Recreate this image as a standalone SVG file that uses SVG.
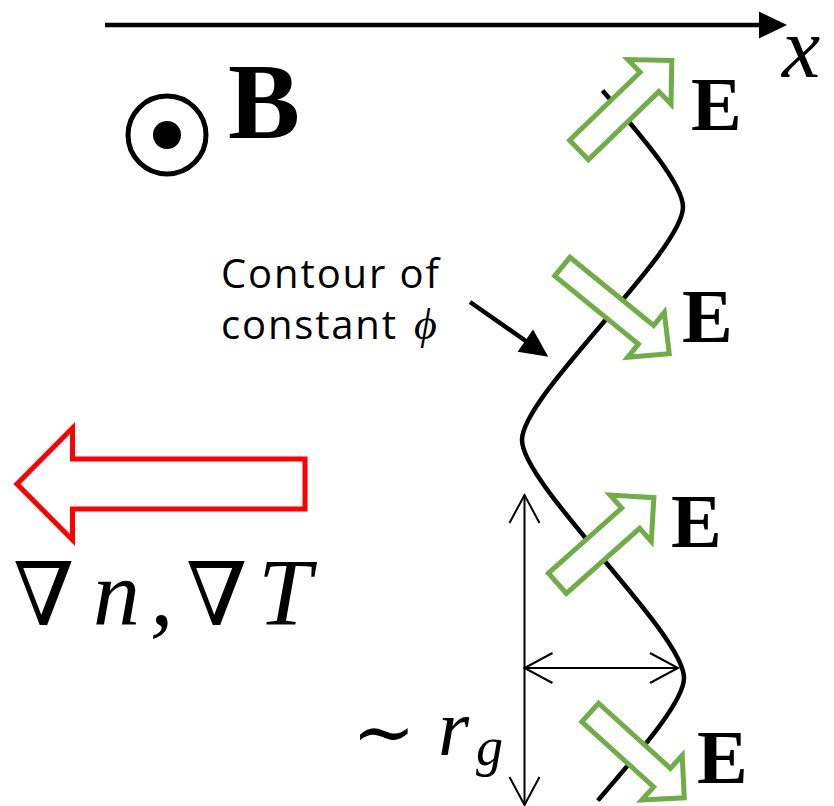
<svg xmlns="http://www.w3.org/2000/svg" width="834" height="806" viewBox="0 0 834 806">
<style>
.bold{font-family:"Liberation Serif","DejaVu Serif",serif;font-weight:bold;fill:#000}
.it{font-family:"Liberation Serif","DejaVu Serif",serif;font-style:italic;fill:#000}
.sym{font-family:"DejaVu Serif","DejaVu Sans",serif;fill:#000}
.lbl{font-family:"Open Sans","Noto Sans","Liberation Sans",sans-serif;fill:#000}
.earrow{fill:#fff;stroke:#70AD47;stroke-width:5;stroke-linejoin:miter}
.thick{stroke:#000;stroke-width:4.5;fill:none}
.thin{stroke:#000;stroke-width:2;fill:none}
</style>
<defs>
<marker id="tri" viewBox="-20 -15 32 30" markerWidth="32" markerHeight="30" refX="0" refY="0" markerUnits="userSpaceOnUse" orient="auto">
<path d="M-18,-13.5 L10,0 L-18,13.5 Z" fill="#000"/>
</marker>
<marker id="chev" viewBox="-32 -18 36 36" markerWidth="36" markerHeight="36" refX="0" refY="0" markerUnits="userSpaceOnUse" orient="auto-start-reverse">
<path d="M-28,-15 L0,0 L-28,15" fill="none" stroke="#000" stroke-width="2"/>
</marker>
</defs>

<g id="x-axis">
<line x1="105" y1="25" x2="777" y2="25" class="thick" marker-end="url(#tri)"/>
<text x="782" y="77" class="it" font-size="86">x</text>
</g>

<g id="b-field">
<circle cx="167" cy="135" r="39" fill="none" stroke="#000" stroke-width="5"/>
<circle cx="167" cy="135" r="14" fill="#000"/>
<text x="228" y="138" class="bold" font-size="108">B</text>
</g>

<g id="gradient">
<polygon points="305,459 72.5,459 72.5,428 17,484 72.5,540 72.5,509 305,509" fill="#fff" stroke="#FF0000" stroke-width="5"/>
<text y="625"><tspan x="13" class="sym" font-size="88">∇</tspan><tspan x="93" class="it" font-size="94">n</tspan><tspan x="150" class="it" font-size="94">,</tspan><tspan x="186" class="sym" font-size="88">∇</tspan><tspan x="258" class="it" font-size="96">T</tspan></text>
</g>

<g id="contour">
<path d="M602.5,90.5 C642.75,137.5 683,184.5 683,207 C683,252 522,395 522,440 C522,485 684,633 684,678 C684,700.5 643.5,747.5 603,794.5 L597.8,800.6" class="thick"/>
</g>

<g id="contour-label">
<text x="221" y="288" class="lbl" font-size="40" textLength="218" lengthAdjust="spacing">Contour of</text>
<text x="221" y="339" class="lbl" font-size="40" textLength="175" lengthAdjust="spacing">constant</text>
<text x="414" y="339" class="it" font-size="44">ϕ</text>
</g>

<g id="e1">
<path class="earrow" transform="translate(579,150) rotate(-44)" d="M0,-13.5 H98 V-31 L129,0 L98,31 V13.5 H0 Z"/>
<text x="691" y="130" class="bold" font-size="76">E</text>
</g>
<g id="e2">
<path class="earrow" transform="translate(562.3,266.6) rotate(39.2)" d="M0,-12 H108 V-29 L138,0 L108,29 V12 H0 Z"/>
<text x="682" y="342" class="bold" font-size="76">E</text>
</g>
<g id="e3">
<path class="earrow" transform="translate(557.4,583.3) rotate(-41.6)" d="M0,-13.5 H98 V-31 L129,0 L98,31 V13.5 H0 Z"/>
<text x="671" y="547" class="bold" font-size="76">E</text>
</g>
<g id="e4">
<path class="earrow" transform="translate(590.2,712.5) rotate(42.2)" d="M0,-12.5 H97 V-30 L127,0 L97,30 V12.5 H0 Z"/>
<text x="697" y="783" class="bold" font-size="76">E</text>
</g>

<g id="rg-label">
<text x="352" y="758" class="sym" font-size="76">∼</text>
<text x="438" y="755" class="it" font-size="80">r</text>
<text x="476" y="765" class="it" font-size="54">g</text>
</g>

<g id="connectors">
<line x1="470" y1="302" x2="540.1" y2="351" class="thick" marker-end="url(#tri)"/>
<line x1="524.5" y1="495" x2="524.5" y2="805" class="thin" marker-start="url(#chev)" marker-end="url(#chev)"/>
<line x1="524.5" y1="668" x2="678" y2="668" class="thin" marker-start="url(#chev)" marker-end="url(#chev)"/>
</g>
</svg>
